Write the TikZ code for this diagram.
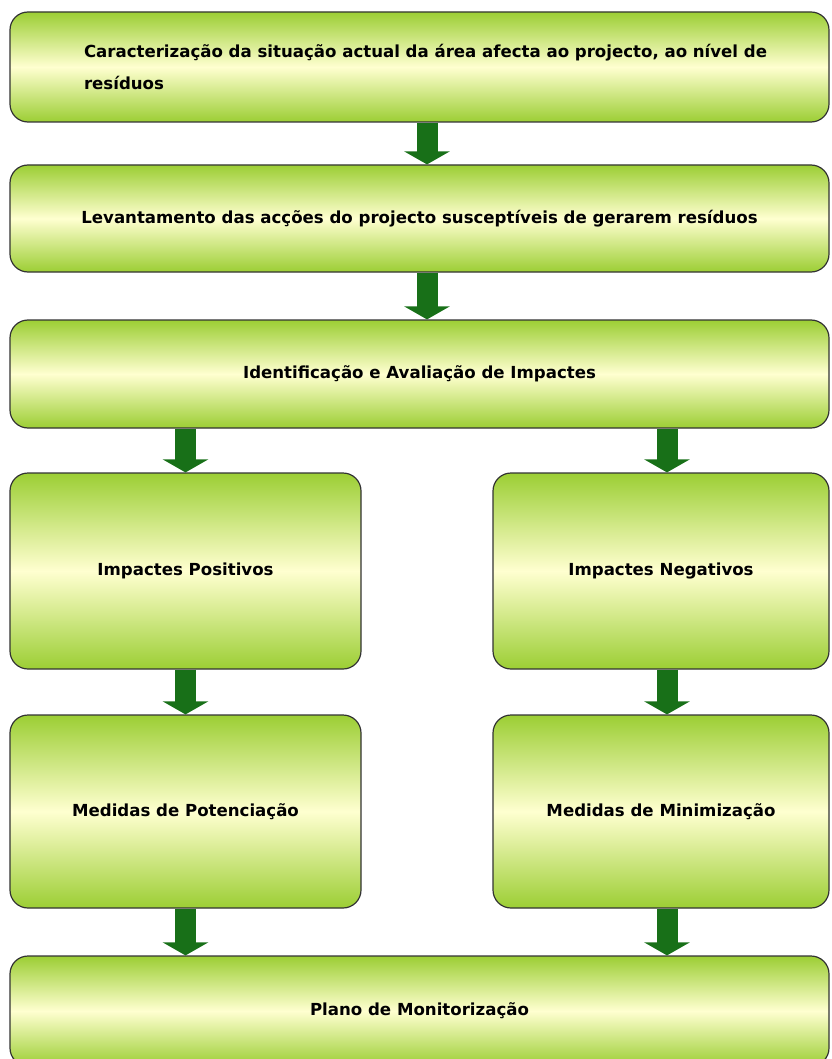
\documentclass[tikz,border=0pt]{standalone}
\usepackage{fontspec}
\setmainfont{DejaVu Sans}
\usetikzlibrary{arrows.meta}

\definecolor{boxgreen}{RGB}{156,206,52}
\definecolor{boxlight}{RGB}{255,255,208}
\definecolor{arrowgreen}{RGB}{24,112,24}

\begin{document}
\begin{tikzpicture}[
    x = 1pt,
    y = -1pt,
    box/.style = {rectangle, rounded corners=18pt, draw=black!80, line width=1.2pt,
    top color=boxgreen, bottom color=boxgreen, middle color=boxlight,
    font=\bfseries\fontsize{16.6}{32}\selectfont, inner sep=0pt},
    flow/.style = {draw=arrowgreen, line width=21pt,
    -{Triangle[length=13pt 0, width=45pt 0]}},
]

\useasboundingbox (0,0) rectangle (831,1059);

\node[box, minimum width=819pt, minimum height=110pt] (caract) at (419.5,67)
    {\hspace*{12pt}\parbox{683pt}{Caracterização da situação actual da área afecta ao projecto, ao nível de\\resíduos}};
\node[box, minimum width=819pt, minimum height=107pt] (levant) at (419.5,218.5)
    {Levantamento das acções do projecto susceptíveis de gerarem resíduos};
\node[box, minimum width=819pt, minimum height=108pt] (ident) at (419.5,374)
    {Identificação e Avaliação de Impactes};
\node[box, minimum width=351pt, minimum height=196pt] (posit) at (185.5,571)
    {Impactes Positivos};
\node[box, minimum width=336pt, minimum height=196pt] (negat) at (661,571)
    {Impactes Negativos};
\node[box, minimum width=351pt, minimum height=193pt] (poten) at (185.5,811.5)
    {Medidas de Potenciação};
\node[box, minimum width=336pt, minimum height=193pt] (minim) at (661,811.5)
    {Medidas de Minimização};
\node[box, minimum width=819pt, minimum height=110pt] (monit) at (419.5,1011)
    {Plano de Monitorização};

\draw [flow] ([xshift=7.5pt]caract.south) -- ([xshift=7.5pt]levant.north);
\draw [flow] ([xshift=7.5pt]levant.south) -- ([xshift=7.5pt]ident.north);
\draw [flow] (posit.north |- ident.south) -- (posit.north);
\draw [flow] ([xshift=6pt]negat.north |- ident.south) -- ([xshift=6pt]negat.north);
\draw [flow] (posit.south) -- (poten.north);
\draw [flow] ([xshift=6pt]negat.south) -- ([xshift=6pt]minim.north);
\draw [flow] (poten.south) -- (poten.south |- monit.north);
\draw [flow] ([xshift=6pt]minim.south) -- ([xshift=6pt]minim.south |- monit.north);

\end{tikzpicture}
\end{document}
